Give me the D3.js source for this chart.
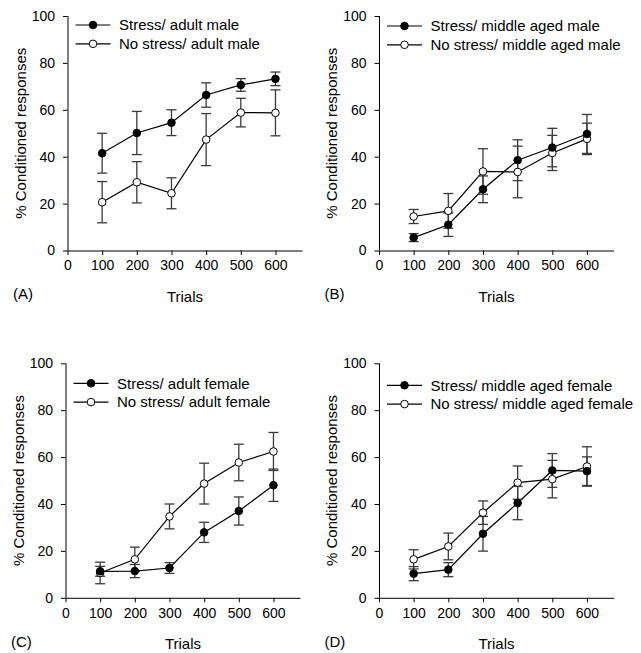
<!DOCTYPE html>
<html><head><meta charset="utf-8">
<script src="https://cdn.jsdelivr.net/npm/d3@7"></script>
<style>body{margin:0;background:#fff}svg{display:block}text{font-family:"Liberation Sans",Arial,sans-serif;fill:#000}</style>
</head><body>
<script>
const trials = [100, 200, 300, 400, 500, 600];
const xTicks = [0, 100, 200, 300, 400, 500, 600];
const yTicks = [0, 20, 40, 60, 80, 100];

const stressAdultMale = [41.5, 50.1, 54.5, 66.3, 70.6, 73.2];
const stressAdultMaleErr = [8.5, 9.2, 5.5, 5.2, 2.7, 2.9];
const noStressAdultMale = [20.6, 29.1, 24.4, 47.3, 58.8, 58.7];
const noStressAdultMaleErr = [8.8, 8.8, 6.6, 11.1, 6.1, 9.8];

const stressMidMale = [5.5, 11.0, 26.1, 38.5, 43.9, 49.7];
const stressMidMaleErr = [1.7, 5.0, 5.7, 8.7, 8.2, 8.3];
const noStressMidMale = [14.5, 16.9, 33.7, 33.5, 41.6, 47.6];
const noStressMidMaleErr = [3.0, 7.4, 9.7, 11.0, 7.5, 6.7];

const stressAdultFemale = [11.3, 11.4, 12.7, 27.9, 37.0, 48.0];
const stressAdultFemaleErr = [2.1, 2.8, 2.3, 4.3, 6.0, 6.9];
const noStressAdultFemale = [10.6, 16.4, 34.7, 48.7, 57.7, 62.4];
const noStressAdultFemaleErr = [4.6, 5.2, 5.3, 8.7, 7.8, 8.1];

const stressMidFemale = [10.3, 12.0, 27.3, 40.4, 54.3, 54.0];
const stressMidFemaleErr = [3.0, 3.0, 7.4, 7.1, 7.2, 6.1];
const noStressMidFemale = [16.4, 21.9, 36.3, 49.1, 50.6, 56.0];
const noStressMidFemaleErr = [4.1, 5.7, 5.0, 7.1, 8.0, 8.4];

const panelLetters = ["(A)", "(B)", "(C)", "(D)"];
const legendStress = ["Stress/ adult male", "Stress/ middle aged male", "Stress/ adult female", "Stress/ middle aged female"];
const legendNoStress = ["No stress/ adult male", "No stress/ middle aged male", "No stress/ adult female", "No stress/ middle aged female"];
const xTitle = "Trials";
const yTitle = "% Conditioned responses";

const panels = [
  {left: 67.5, top: 16, legY: 9, s: stressAdultMale, se: stressAdultMaleErr, n: noStressAdultMale, ne: noStressAdultMaleErr},
  {left: 379, top: 16, legY: 10, s: stressMidMale, se: stressMidMaleErr, n: noStressMidMale, ne: noStressMidMaleErr},
  {left: 65.5, top: 363.3, legY: 20, s: stressAdultFemale, se: stressAdultFemaleErr, n: noStressAdultFemale, ne: noStressAdultFemaleErr},
  {left: 379, top: 363.3, legY: 22, s: stressMidFemale, se: stressMidFemaleErr, n: noStressMidFemale, ne: noStressMidFemaleErr}
];

const W = 641, H = 653, pw = 235, ph = 234.5;
const svg = d3.select("body").append("svg").attr("width", W).attr("height", H);
svg.append("rect").attr("width", W).attr("height", H).attr("fill", "#fff");

panels.forEach((p, i) => {
  const g = svg.append("g").attr("transform", `translate(${p.left},${p.top})`);
  const x = d3.scaleLinear().domain([0, 678]).range([0, pw]);
  const y = d3.scaleLinear().domain([0, 100]).range([ph, 0]);

  const xa = g.append("g").attr("transform", `translate(0,${ph})`)
    .call(d3.axisBottom(x).tickValues(xTicks).tickSize(4.5).tickPadding(5.5).tickSizeOuter(0));
  const ya = g.append("g")
    .call(d3.axisLeft(y).tickValues(yTicks).tickSize(4.5).tickPadding(8).tickSizeOuter(0));
  [xa, ya].forEach(a => {
    a.select(".domain").attr("stroke", "#000").attr("stroke-width", 1);
    a.selectAll(".tick line").attr("stroke", "#000");
    a.selectAll("text").style("font-size", "14px").style("font-family", "'Liberation Sans', Arial, sans-serif").attr("fill", "#000");
  });
  ya.select(".domain").attr("d", `M0.5,${ph}V0`);
  xa.select(".domain").attr("d", `M0,0.5H${pw}`);

  const series = [
    {v: p.n, e: p.ne, fill: "#fff"},
    {v: p.s, e: p.se, fill: "#000"}
  ];
  const line = d3.line().x((d, j) => x(trials[j])).y(d => y(d));
  series.forEach(sr => {
    g.append("path").attr("d", line(sr.v)).attr("fill", "none").attr("stroke", "#000").attr("stroke-width", 1.2);
  });
  series.forEach(sr => {
    const eb = g.append("g").attr("stroke", "#3a3a3a").attr("stroke-width", 1.3);
    sr.v.forEach((v, j) => {
      const cx = x(trials[j]);
      eb.append("line").attr("x1", cx).attr("x2", cx).attr("y1", y(v + sr.e[j])).attr("y2", y(v - sr.e[j]));
      [v + sr.e[j], v - sr.e[j]].forEach(t => {
        eb.append("line").attr("x1", cx - 5).attr("x2", cx + 5).attr("y1", y(t)).attr("y2", y(t));
      });
    });
  });
  series.forEach(sr => {
    g.selectAll(null).data(sr.v).enter().append("circle")
      .attr("cx", (d, j) => x(trials[j])).attr("cy", d => y(d)).attr("r", 3.8)
      .attr("fill", sr.fill).attr("stroke", "#000").attr("stroke-width", 1);
  });

  // legend
  const lg = g.append("g").attr("transform", `translate(8,${p.legY})`);
  [[legendStress[i], "#000"], [legendNoStress[i], "#fff"]].forEach((it, k) => {
    const yy = k * 18.8;
    lg.append("line").attr("x1", 0).attr("x2", 35).attr("y1", yy).attr("y2", yy).attr("stroke", "#000").attr("stroke-width", 1.2);
    lg.append("circle").attr("cx", 17.5).attr("cy", yy).attr("r", 3.8).attr("fill", it[1]).attr("stroke", "#000");
    lg.append("text").attr("x", 43.5).attr("y", yy).attr("dy", "0.36em").style("font-size", "15px").text(it[0]);
  });

  g.append("text").attr("x", pw / 2).attr("y", ph + 46).attr("dy", "0.36em").attr("text-anchor", "middle").style("font-size", "15px").text(xTitle);
  g.append("text").attr("transform", `translate(${-47},${ph / 2}) rotate(-90)`).attr("text-anchor", "middle").attr("dy", "0.36em").style("font-size", "15px").text(yTitle);
  g.append("text").attr("x", -54.5).attr("y", ph + 43.5).attr("dy", "0.36em").style("font-size", "15px").text(panelLetters[i]);
});
</script>
</body></html>
